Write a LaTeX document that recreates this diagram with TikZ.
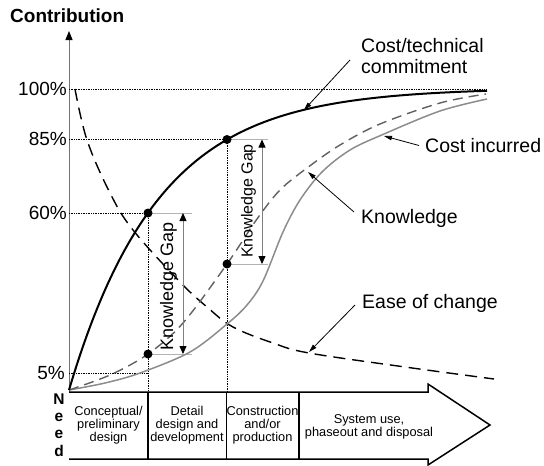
\documentclass[tikz,border=0pt]{standalone}
\usepackage{fontspec}
\setmainfont{Liberation Sans}
\usetikzlibrary{arrows.meta,positioning}

\tikzset{
  commit/.style={line width=2pt},
  incurred/.style={line width=1.5pt,black!45},
  knowdash/.style={line width=1.4pt,black!62,dash pattern=on 10pt off 6pt},
  easedash/.style={line width=1.4pt,dash pattern=on 12pt off 7pt},
  guide/.style={densely dotted,line width=0.7pt},
  ext/.style={black!30,line width=0.8pt},
  gaparrow/.style={black!50,line width=0.8pt,
    {Triangle[length=8pt,width=7pt,black]}-{Triangle[length=8pt,width=7pt,black]}},
  leader/.style={line width=0.8pt,-{Triangle[length=8pt,width=4.5pt]}},
  lbl/.style={inner sep=0pt,anchor=west,align=left,font=\fontsize{19.5}{21}\selectfont},
  pct/.style={inner sep=0pt,anchor=east,font=\fontsize{19}{21}\selectfont},
  phase/.style={inner sep=0pt,align=center,font=\fontsize{12.8}{13}\selectfont},
  gaplbl/.style={inner sep=0pt,rotate=90},
  needltr/.style={inner sep=0pt,font=\fontsize{15.5}{16}\selectfont\bfseries}
}

\begin{document}
\begin{tikzpicture}[x=1pt,y=-1pt]
    \useasboundingbox (0,0) rectangle (544,466);

    % Axis and its title
    \coordinate (origin) at (69,392);
    \coordinate (ytop) at (69,31);
    \draw[black!55,line width=0.9pt,-{Triangle[length=9pt,width=7pt,black]}] (origin) -- (ytop);
    \node[inner sep=0pt,anchor=west,font=\fontsize{19}{20}\selectfont\bfseries] (ytitle) at (10,15.5) {Contribution};

    % Percent levels
    \node[pct] (p100) at (67,89) {100\%};
    \node[pct] (p85) at (67,139) {85\%};
    \node[pct] (p60) at (67,213) {60\%};
    \node[pct] (p5) at (65,373) {5\%};

    % Points where the gaps are read
    \coordinate (c60) at (148,213);
    \coordinate (k60) at (148,354);
    \coordinate (c85) at (227,139.5);
    \coordinate (k85) at (227,264);

    % Guide lines
    \draw[guide] (69,89) -- (487,89);
    \draw[guide] (69,139.5) -- (c85);
    \draw[guide] (69,213) -- (c60);
    \draw[guide] (69,373) -- (148,373);
    \draw[guide] (c60) -- (148,392);
    \draw[guide] (c85) -- (227,392);
    \draw[ext] (c60) -- (192,213);
    \draw[ext] (k60) -- (192,354);
    \draw[ext] (c85) -- (268,139.5);
    \draw[ext] (k85) -- (268,264);

    % Curves
    \draw[easedash] plot[smooth,tension=0.6] coordinates {(75,89) (87,140) (110,193) (133,230) (180,282)
      (207,307) (233,327) (273,343) (309,353) (405,367) (494,379)};
    \draw[incurred] plot[smooth,tension=0.55] coordinates {(69,390) (105,383) (140,373) (190,352) (227,324)
      (247,305) (263,281) (283,232) (300,200) (322,172) (350,150) (384,134) (440,111) (487,99)};
    \draw[knowdash] plot[smooth,tension=0.55] coordinates {(69,390) (110,375) (148,354) (183,323) (227,264)
      (257,219) (280,190) (307,168) (340,145) (380,124) (440,103) (486,94)};
    \draw[commit] plot[domain=69:487,samples=150] (\x,{390-302*(1-exp(-0.01118*(\x-69)))});

    % Dots
    \foreach \p in {c60,k60,c85,k85}
      \fill (\p) circle (4.5pt);

    % Knowledge gaps
    \draw[gaparrow] (183,213) -- (183,354);
    \draw[gaparrow] (262,139.5) -- (262,264);
    \node[gaplbl,font=\fontsize{18}{20}\selectfont] (gaplo) at (168.5,286) {Knowledge Gap};
    \node[gaplbl,font=\fontsize{16}{18}\selectfont] (gaphi) at (248.5,201) {Knowledge Gap};

    % Curve labels
    \node[lbl] (commitlbl) at (361,56) {Cost/technical\\commitment};
    \node[lbl] (incurredlbl) at (425,145.5) {Cost incurred};
    \node[lbl] (knowlbl) at (361,218) {Knowledge};
    \node[lbl] (easelbl) at (362,303) {Ease of change};
    \coordinate (commitpt) at (304,110);
    \coordinate (incurredpt) at (384,136);
    \coordinate (knowpt) at (308,172);
    \coordinate (easept) at (309,352);
    \draw[leader] ([xshift=-11pt,yshift=-4pt]commitlbl.west) -- (commitpt);
    \draw[leader] ([xshift=-6pt]incurredlbl.west) -- (incurredpt);
    \draw[leader] ([xshift=-7pt,yshift=6pt]knowlbl.west) -- (knowpt);
    \draw[leader] ([xshift=-7pt,yshift=-2pt]easelbl.west) -- (easept);

    % Life-cycle arrow
    \draw[line width=1.5pt,fill=white] (69,392) -- (428,392) -- (428,384) -- (490,425)
      -- (428,465) -- (428,459) -- (69,459);
    \foreach \x in {148,226.5,299}
      \draw[line width=1.2pt] (\x,392) -- (\x,459);
    \node[phase] (ph1) at (108.5,425) {Conceptual/\\preliminary\\design};
    \node[phase] (ph2) at (187,425) {Detail\\design and\\development};
    \node[phase] (ph3) at (262.5,425) {Construction\\and/or\\production};
    \node[phase] (ph4) at (369,427) {System use,\\phaseout and disposal};

    % Need, one letter under the other
    \node[needltr,anchor=base] (needN) at (59,404) {N};
    \node[needltr,anchor=base] (needE1) at (59,421.5) {e};
    \node[needltr,anchor=base] (needE2) at (59,438.5) {e};
    \node[needltr,anchor=base] (needD) at (59,456) {d};
\end{tikzpicture}
\end{document}
